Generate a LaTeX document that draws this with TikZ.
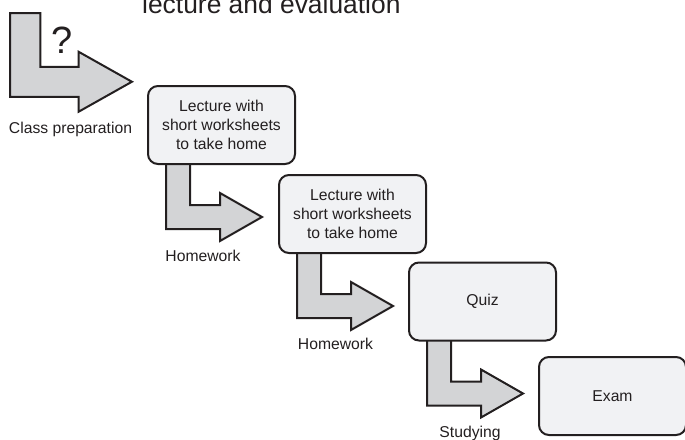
\documentclass[tikz,border=0pt]{standalone}
\usepackage{fontspec}
\setmainfont{Liberation Sans}
\usetikzlibrary{calc}
\usetikzlibrary{backgrounds}

\definecolor{boxfill}{HTML}{F1F2F4}
\definecolor{arrowfill}{HTML}{D3D4D6}
\definecolor{inkline}{HTML}{231F20}

\tikzset{
  stagebox/.style={draw=inkline, line width=2pt, fill=boxfill, rounded corners=10pt,
    minimum width=147pt, minimum height=78pt, align=center, text=inkline,
    font=\fontsize{15.7}{19}\selectfont},
  steplabel/.style={anchor=base, inner sep=0pt, text=inkline,
    font=\fontsize{15.7}{19}\selectfont},
  steparrow/.pic={
    \filldraw[draw=inkline, fill=arrowfill, line width=2pt, miter limit=10]
      (0,-3) -- (24,-3) -- (24,40) -- (54,40) -- (54,28) -- (96,52)
      -- (54,76) -- (54,64) -- (0,64) -- cycle;
  }
}

\begin{document}
\begin{tikzpicture}[x=1pt,y=-1pt]
    \path[use as bounding box, clip] (0,0) rectangle (685,439);
    \node[anchor=base west, inner sep=0pt, text=inkline,
      font=\fontsize{26.4}{30}\selectfont] (title) at (142,13) {lecture and evaluation};
    %
    \pic[xscale=1.27, yscale=1.25] at (10,16.75) {steparrow};
    \node[anchor=base, inner sep=0pt, text=inkline,
      font=\fontsize{38}{40}\selectfont] (ask) at (62,53) {?};
    \node[steplabel] (prep) at (70.5,133) {Class preparation};
    %
    \node[stagebox] (lec1) at (221.5,125) {Lecture with\\short worksheets\\to take home};
    \node[stagebox] (lec2) at (352.5,214) {Lecture with\\short worksheets\\to take home};
    \node[stagebox] (quiz) at (482.5,301.5) {Quiz};
    \node[stagebox] (exam) at (612.5,396) {Exam};
    %
    \begin{scope}[on background layer]
      \pic at ($(lec1.south west)+(19,0)$) {steparrow};
      \pic at ($(lec2.south west)+(19,0)$) {steparrow};
      \pic at ($(quiz.south west)+(19,0)$) {steparrow};
    \end{scope}
    %
    \node[steplabel] (hw1) at (203,261) {Homework};
    \node[steplabel] (hw2) at (335.5,349) {Homework};
    \node[steplabel] (study) at (470,437) {Studying};
\end{tikzpicture}
\end{document}
